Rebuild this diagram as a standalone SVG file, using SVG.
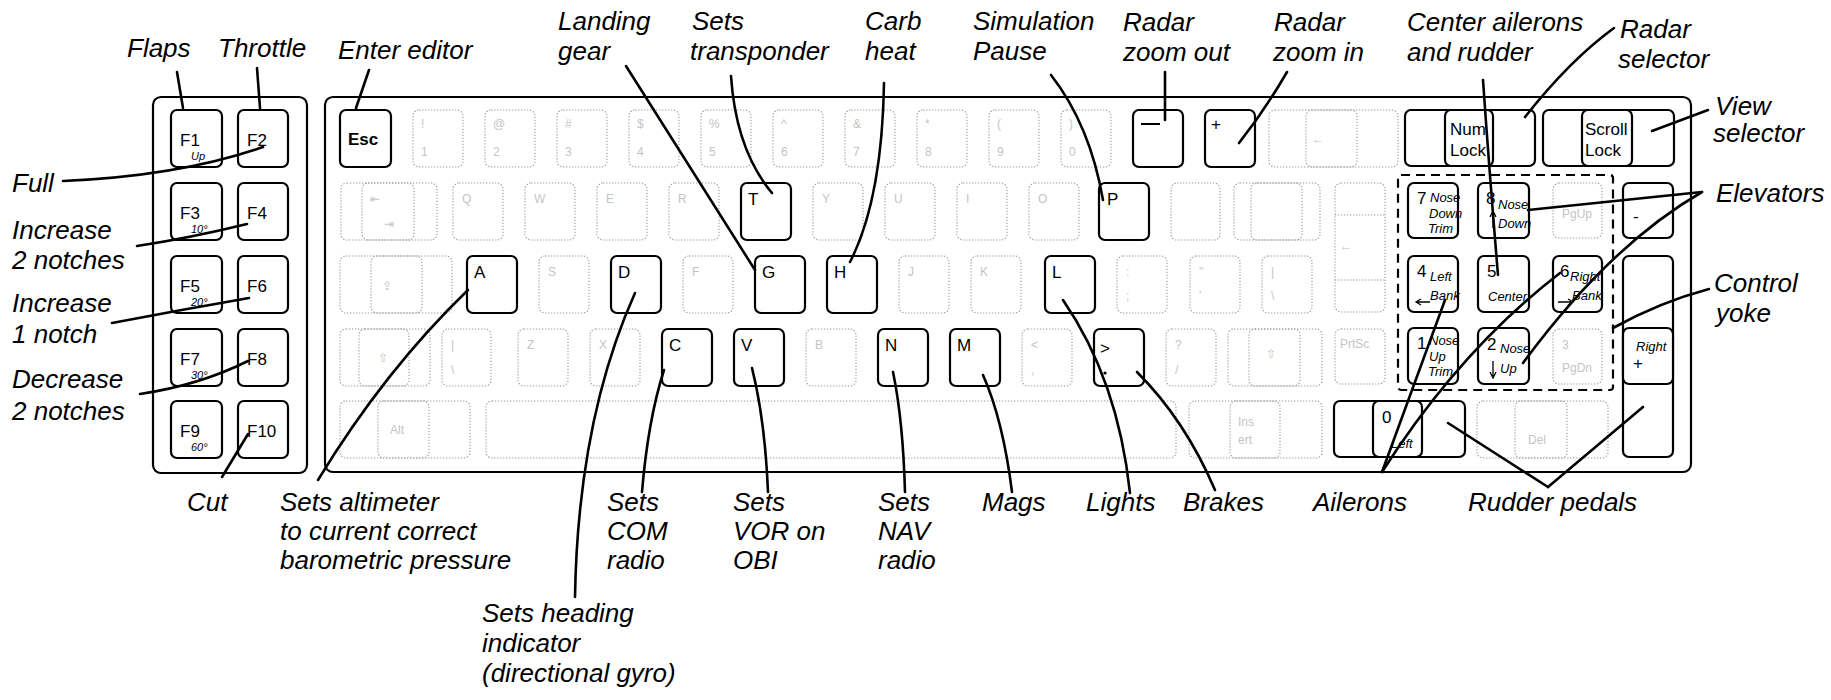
<svg xmlns="http://www.w3.org/2000/svg" width="1831" height="700" viewBox="0 0 1831 700">
<style>
.panel{fill:none;stroke:#000;stroke-width:2.2}
.k{fill:#fff;stroke:#000;stroke-width:2.2}
.d{fill:none;stroke:#9a9a9a;stroke-width:1.1;stroke-dasharray:1.3 1.7}
.dash{fill:none;stroke:#000;stroke-width:2.2;stroke-dasharray:9 6}
.ln{fill:none;stroke:#000;stroke-width:2.6;stroke-linecap:round}
.lb{font-family:"Liberation Sans",Arial,sans-serif;font-style:italic;font-size:26px;fill:#000}
.kt{font-family:"Liberation Sans",Arial,sans-serif;font-size:17px;fill:#000}
.kb{font-family:"Liberation Sans",Arial,sans-serif;font-size:17px;font-weight:bold;fill:#000}
.ks{font-family:"Liberation Sans",Arial,sans-serif;font-style:italic;font-size:11px;fill:#000}
.kn{font-family:"Liberation Sans",Arial,sans-serif;font-style:italic;font-size:13px;fill:#000}
.ft{font-family:"Liberation Sans",Arial,sans-serif;font-size:12px;fill:#c4c4c4}
</style>
<rect width="1831" height="700" fill="#fff"/>

<g id="panels">
<rect class="panel" x="153" y="97" width="154" height="376" rx="8"/>
<rect class="panel" x="325" y="97" width="1366" height="375" rx="8"/>
</g>

<g id="fkeys">
<rect class="k" x="171" y="110" width="51" height="57" rx="6"/><text class="kt" x="180" y="146">F1</text><text class="ks" x="191" y="160">Up</text>
<rect class="k" x="238" y="110" width="50" height="57" rx="6"/><text class="kt" x="247" y="146">F2</text>
<rect class="k" x="171" y="183" width="51" height="57" rx="6"/><text class="kt" x="180" y="219">F3</text><text class="ks" x="191" y="233">10°</text>
<rect class="k" x="238" y="183" width="50" height="57" rx="6"/><text class="kt" x="247" y="219">F4</text>
<rect class="k" x="171" y="256" width="51" height="57" rx="6"/><text class="kt" x="180" y="292">F5</text><text class="ks" x="191" y="306">20°</text>
<rect class="k" x="238" y="256" width="50" height="57" rx="6"/><text class="kt" x="247" y="292">F6</text>
<rect class="k" x="171" y="329" width="51" height="57" rx="6"/><text class="kt" x="180" y="365">F7</text><text class="ks" x="191" y="379">30°</text>
<rect class="k" x="238" y="329" width="50" height="57" rx="6"/><text class="kt" x="247" y="365">F8</text>
<rect class="k" x="171" y="401" width="51" height="57" rx="6"/><text class="kt" x="180" y="437">F9</text><text class="ks" x="191" y="451">60°</text>
<rect class="k" x="238" y="401" width="50" height="57" rx="6"/><text class="kt" x="247" y="437">F10</text>
</g>

<g id="faint-keys">
<rect class="d" x="413" y="110" width="50" height="57" rx="6"/><text class="ft" x="421" y="128">!</text><text class="ft" x="421" y="156">1</text>
<rect class="d" x="485" y="110" width="50" height="57" rx="6"/><text class="ft" x="493" y="128">@</text><text class="ft" x="493" y="156">2</text>
<rect class="d" x="557" y="110" width="50" height="57" rx="6"/><text class="ft" x="565" y="128">#</text><text class="ft" x="565" y="156">3</text>
<rect class="d" x="629" y="110" width="50" height="57" rx="6"/><text class="ft" x="637" y="128">$</text><text class="ft" x="637" y="156">4</text>
<rect class="d" x="701" y="110" width="50" height="57" rx="6"/><text class="ft" x="709" y="128">%</text><text class="ft" x="709" y="156">5</text>
<rect class="d" x="773" y="110" width="50" height="57" rx="6"/><text class="ft" x="781" y="128">^</text><text class="ft" x="781" y="156">6</text>
<rect class="d" x="845" y="110" width="50" height="57" rx="6"/><text class="ft" x="853" y="128">&amp;</text><text class="ft" x="853" y="156">7</text>
<rect class="d" x="917" y="110" width="50" height="57" rx="6"/><text class="ft" x="925" y="128">*</text><text class="ft" x="925" y="156">8</text>
<rect class="d" x="989" y="110" width="50" height="57" rx="6"/><text class="ft" x="997" y="128">(</text><text class="ft" x="997" y="156">9</text>
<rect class="d" x="1061" y="110" width="50" height="57" rx="6"/><text class="ft" x="1069" y="128">)</text><text class="ft" x="1069" y="156">0</text>
<rect class="d" x="1269" y="110" width="129" height="57" rx="6"/><rect class="d" x="1306" y="110" width="51" height="57" rx="6"/><text class="ft" x="1312" y="143">←</text>
<rect class="d" x="341" y="183" width="96" height="57" rx="6"/><rect class="d" x="362" y="183" width="52" height="57" rx="6"/><text class="ft" x="370" y="203">⇤</text><text class="ft" x="384" y="228">⇥</text>
<rect class="d" x="453" y="183" width="50" height="57" rx="6"/><text class="ft" x="462" y="203">Q</text>
<rect class="d" x="525" y="183" width="50" height="57" rx="6"/><text class="ft" x="534" y="203">W</text>
<rect class="d" x="597" y="183" width="50" height="57" rx="6"/><text class="ft" x="606" y="203">E</text>
<rect class="d" x="669" y="183" width="50" height="57" rx="6"/><text class="ft" x="678" y="203">R</text>
<rect class="d" x="813" y="183" width="50" height="57" rx="6"/><text class="ft" x="822" y="203">Y</text>
<rect class="d" x="885" y="183" width="50" height="57" rx="6"/><text class="ft" x="894" y="203">U</text>
<rect class="d" x="957" y="183" width="50" height="57" rx="6"/><text class="ft" x="966" y="203">I</text>
<rect class="d" x="1029" y="183" width="50" height="57" rx="6"/><text class="ft" x="1038" y="203">O</text>
<rect class="d" x="1171" y="183" width="49" height="57" rx="6"/>
<rect class="d" x="1234" y="183" width="86" height="57" rx="6"/><rect class="d" x="1251" y="183" width="51" height="57" rx="6"/>
<rect class="d" x="1335" y="183" width="50" height="129" rx="6"/><line class="d" x1="1335" y1="215" x2="1385" y2="215"/><line class="d" x1="1335" y1="280" x2="1385" y2="280"/><text class="ft" x="1340" y="250">←</text>
<rect class="d" x="1553" y="183" width="49" height="55" rx="6"/><text class="ft" x="1562" y="218">PgUp</text>
<rect class="d" x="340" y="256" width="112" height="57" rx="6"/><rect class="d" x="371" y="256" width="51" height="57" rx="6"/><text class="ft" x="382" y="290">⇪</text>
<rect class="d" x="539" y="256" width="50" height="57" rx="6"/><text class="ft" x="548" y="276">S</text>
<rect class="d" x="683" y="256" width="50" height="57" rx="6"/><text class="ft" x="692" y="276">F</text>
<rect class="d" x="899" y="256" width="50" height="57" rx="6"/><text class="ft" x="908" y="276">J</text>
<rect class="d" x="971" y="256" width="50" height="57" rx="6"/><text class="ft" x="980" y="276">K</text>
<rect class="d" x="1117" y="256" width="50" height="57" rx="6"/><text class="ft" x="1126" y="276">:</text><text class="ft" x="1126" y="300">;</text>
<rect class="d" x="1190" y="256" width="50" height="57" rx="6"/><text class="ft" x="1199" y="276">"</text><text class="ft" x="1199" y="300">'</text>
<rect class="d" x="1262" y="256" width="50" height="57" rx="6"/><text class="ft" x="1271" y="276">|</text><text class="ft" x="1271" y="300">\</text>
<rect class="d" x="340" y="329" width="90" height="57" rx="6"/><rect class="d" x="359" y="329" width="50" height="57" rx="6"/><text class="ft" x="378" y="362">⇧</text>
<rect class="d" x="442" y="329" width="49" height="57" rx="6"/><text class="ft" x="451" y="349">|</text><text class="ft" x="451" y="374">\</text>
<rect class="d" x="518" y="329" width="50" height="57" rx="6"/><text class="ft" x="527" y="349">Z</text>
<rect class="d" x="590" y="329" width="50" height="57" rx="6"/><text class="ft" x="599" y="349">X</text>
<rect class="d" x="806" y="329" width="50" height="57" rx="6"/><text class="ft" x="815" y="349">B</text>
<rect class="d" x="1022" y="329" width="50" height="57" rx="6"/><text class="ft" x="1031" y="349">&lt;</text><text class="ft" x="1031" y="374">,</text>
<rect class="d" x="1166" y="329" width="50" height="57" rx="6"/><text class="ft" x="1175" y="349">?</text><text class="ft" x="1175" y="374">/</text>
<rect class="d" x="1228" y="329" width="94" height="57" rx="6"/><rect class="d" x="1249" y="329" width="51" height="57" rx="6"/><text class="ft" x="1266" y="358">⇧</text>
<rect class="d" x="1335" y="329" width="50" height="55" rx="6"/><text class="ft" x="1340" y="348">PrtSc</text>
<rect class="d" x="1553" y="329" width="49" height="55" rx="6"/><text class="ft" x="1562" y="349">3</text><text class="ft" x="1562" y="372">PgDn</text>
<rect class="d" x="340" y="401" width="130" height="57" rx="6"/><rect class="d" x="378" y="401" width="51" height="57" rx="6"/><text class="ft" x="390" y="434">Alt</text>
<rect class="d" x="486" y="401" width="690" height="57" rx="6"/>
<rect class="d" x="1189" y="401" width="133" height="57" rx="6"/><rect class="d" x="1230" y="401" width="50" height="57" rx="6"/><text class="ft" x="1238" y="426">Ins</text><text class="ft" x="1238" y="444">ert</text>
<rect class="d" x="1477" y="401" width="131" height="57" rx="6"/><rect class="d" x="1515" y="401" width="52" height="57" rx="6"/><text class="ft" x="1528" y="444">Del</text>
</g>

<g id="key-esc"><rect class="k" x="340" y="110" width="51" height="57" rx="6"/><text class="kb" x="348" y="145">Esc</text></g>
<g id="key-minus"><rect class="k" x="1133" y="110" width="50" height="57" rx="6"/><line x1="1141" y1="124" x2="1160" y2="124" stroke="#000" stroke-width="2"/></g>
<g id="key-plus"><rect class="k" x="1205" y="110" width="50" height="57" rx="6"/><text class="kt" x="1211" y="130" font-size="20">+</text></g>
<g id="key-numlock"><rect class="k" x="1405" y="110" width="130" height="56" rx="6"/><rect class="k" x="1445" y="110" width="48" height="56" rx="6"/><text class="kt" x="1450" y="135">Num</text><text class="kt" x="1450" y="156">Lock</text></g>
<g id="key-scroll"><rect class="k" x="1543" y="110" width="131" height="56" rx="6"/><rect class="k" x="1582" y="110" width="50" height="56" rx="6"/><text class="kt" x="1585" y="135">Scroll</text><text class="kt" x="1585" y="156">Lock</text></g>

<g id="key-t"><rect class="k" x="741" y="183" width="50" height="57" rx="6"/><text class="kt" x="748" y="205" font-size="19">T</text></g>
<g id="key-p"><rect class="k" x="1099" y="183" width="50" height="57" rx="6"/><text class="kt" x="1107" y="205" font-size="19">P</text></g>
<g id="key-a"><rect class="k" x="467" y="256" width="50" height="57" rx="6"/><text class="kt" x="474" y="278" font-size="19">A</text></g>
<g id="key-d"><rect class="k" x="611" y="256" width="50" height="57" rx="6"/><text class="kt" x="618" y="278" font-size="19">D</text></g>
<g id="key-g"><rect class="k" x="755" y="256" width="50" height="57" rx="6"/><text class="kt" x="762" y="278" font-size="19">G</text></g>
<g id="key-h"><rect class="k" x="827" y="256" width="50" height="57" rx="6"/><text class="kt" x="834" y="278" font-size="19">H</text></g>
<g id="key-l"><rect class="k" x="1045" y="256" width="50" height="57" rx="6"/><text class="kt" x="1052" y="278" font-size="19">L</text></g>
<g id="key-c"><rect class="k" x="662" y="329" width="50" height="57" rx="6"/><text class="kt" x="669" y="351" font-size="19">C</text></g>
<g id="key-v"><rect class="k" x="734" y="329" width="50" height="57" rx="6"/><text class="kt" x="741" y="351" font-size="19">V</text></g>
<g id="key-n"><rect class="k" x="878" y="329" width="50" height="57" rx="6"/><text class="kt" x="885" y="351" font-size="19">N</text></g>
<g id="key-m"><rect class="k" x="950" y="329" width="50" height="57" rx="6"/><text class="kt" x="957" y="351" font-size="19">M</text></g>
<g id="key-period"><rect class="k" x="1094" y="329" width="50" height="57" rx="6"/><text class="kt" x="1100" y="354" font-size="24">&gt;</text><circle cx="1105" cy="373" r="1.6" fill="#000"/></g>

<g id="keypad-box"><rect class="dash" x="1398" y="175" width="215" height="215" rx="3"/></g>
<g id="key-7"><rect class="k" x="1408" y="183" width="50" height="55" rx="6"/><text class="kt" x="1417" y="204">7</text><text class="kn" x="1430" y="202">Nose</text><text class="kn" x="1429" y="218">Down</text><text class="kn" x="1428" y="233">Trim</text></g>
<g id="key-8"><rect class="k" x="1478" y="183" width="51" height="55" rx="6"/><text class="kt" x="1486" y="204">8</text><text class="kn" x="1498" y="209">Nose</text><text class="kn" x="1498" y="228">Down</text><path d="M1493 228 V213 M1490 217 L1493 211 L1496 217" stroke="#000" stroke-width="1.3" fill="none"/></g>
<g id="key-kpminus"><rect class="k" x="1623" y="183" width="50" height="55" rx="6"/><text class="kt" x="1633" y="222">-</text></g>
<g id="key-4"><rect class="k" x="1408" y="256" width="50" height="56" rx="6"/><text class="kt" x="1417" y="277">4</text><text class="kn" x="1430" y="281">Left</text><text class="kn" x="1430" y="300">Bank</text><path d="M1430 302 H1417 M1421 299 L1416 302 L1421 305" stroke="#000" stroke-width="1.3" fill="none"/></g>
<g id="key-5"><rect class="k" x="1478" y="256" width="51" height="56" rx="6"/><text class="kt" x="1487" y="277">5</text><text class="kn" x="1488" y="301">Center</text></g>
<g id="key-6"><rect class="k" x="1553" y="256" width="49" height="56" rx="6"/><text class="kt" x="1560" y="277">6</text><text class="kn" x="1570" y="281">Right</text><text class="kn" x="1572" y="300">Bank</text><path d="M1558 302 H1572 M1568 299 L1573 302 L1568 305" stroke="#000" stroke-width="1.3" fill="none"/></g>
<g id="key-kpplus"><rect class="k" x="1623" y="256" width="50" height="201" rx="6"/><rect class="k" x="1623" y="328" width="50" height="56" rx="6"/><text class="kn" x="1636" y="351">Right</text><text class="kt" x="1633" y="369" font-size="14">+</text></g>
<g id="key-1"><rect class="k" x="1408" y="328" width="50" height="56" rx="6"/><text class="kt" x="1417" y="349">1</text><text class="kn" x="1429" y="345">Nose</text><text class="kn" x="1429" y="361">Up</text><text class="kn" x="1428" y="376">Trim</text></g>
<g id="key-2"><rect class="k" x="1478" y="328" width="51" height="56" rx="6"/><text class="kt" x="1487" y="350">2</text><text class="kn" x="1500" y="353">Nose</text><text class="kn" x="1500" y="373">Up</text><path d="M1493 361 V376 M1490 372 L1493 378 L1496 372" stroke="#000" stroke-width="1.3" fill="none"/></g>
<g id="key-0"><rect class="k" x="1334" y="401" width="131" height="56" rx="6"/><rect class="k" x="1373" y="401" width="49" height="56" rx="6"/><text class="kt" x="1382" y="423">0</text><text class="kn" x="1391" y="448">Left</text></g>

<g id="connectors">
<path class="ln" d="M177 72 L183 108"/>
<path class="ln" d="M257 68 L260 108"/>
<path class="ln" d="M369 70 L356 108"/>
<path class="ln" d="M63 181 Q180 176 263 147"/>
<path class="ln" d="M137 246 Q190 238 247 224"/>
<path class="ln" d="M112 323 Q180 310 249 298"/>
<path class="ln" d="M140 394 Q200 385 248 361"/>
<path class="ln" d="M222 477 L248 434"/>
<path class="ln" d="M318 480 Q385 370 468 290"/>
<path class="ln" d="M626 66 L755 270"/>
<path class="ln" d="M731 76 Q736 150 772 193"/>
<path class="ln" d="M884 83 Q882 200 850 262"/>
<path class="ln" d="M1051 75 Q1090 125 1103 200"/>
<path class="ln" d="M1165 72 L1165 120"/>
<path class="ln" d="M1287 72 Q1265 110 1239 143"/>
<path class="ln" d="M1483 80 Q1490 180 1498 275"/>
<path class="ln" d="M1614 28 Q1570 60 1525 117"/>
<path class="ln" d="M1708 110 L1652 131"/>
<path class="ln" d="M1702 192 L1528 210"/>
<path class="ln" d="M1702 192 Q1610 245 1523 363"/>
<path class="ln" d="M1709 289 Q1660 302 1613 328"/>
<path class="ln" d="M1382 472 L1445 300"/>
<path class="ln" d="M1382 472 Q1460 350 1560 273"/>
<path class="ln" d="M1548 487 L1448 423"/>
<path class="ln" d="M1548 487 L1643 407"/>
<path class="ln" d="M1137 372 Q1185 420 1215 490"/>
<path class="ln" d="M1063 300 Q1118 380 1130 493"/>
<path class="ln" d="M983 375 Q1003 420 1012 492"/>
<path class="ln" d="M893 372 Q903 420 905 492"/>
<path class="ln" d="M752 368 Q765 420 768 492"/>
<path class="ln" d="M664 370 Q648 420 642 492"/>
<path class="ln" d="M635 293 Q578 420 575 597"/>
</g>

<g id="labels">
<text class="lb" x="127" y="57">Flaps</text>
<text class="lb" x="218" y="57">Throttle</text>
<text class="lb" x="338" y="59">Enter editor</text>
<text class="lb" x="558" y="30">Landing</text><text class="lb" x="558" y="60">gear</text>
<text class="lb" x="692" y="30">Sets</text><text class="lb" x="690" y="60">transponder</text>
<text class="lb" x="865" y="30">Carb</text><text class="lb" x="865" y="60">heat</text>
<text class="lb" x="973" y="30">Simulation</text><text class="lb" x="973" y="60">Pause</text>
<text class="lb" x="1123" y="31">Radar</text><text class="lb" x="1123" y="61">zoom out</text>
<text class="lb" x="1274" y="31">Radar</text><text class="lb" x="1273" y="61">zoom in</text>
<text class="lb" x="1407" y="31">Center ailerons</text><text class="lb" x="1407" y="61">and rudder</text>
<text class="lb" x="1620" y="38">Radar</text><text class="lb" x="1618" y="68">selector</text>
<text class="lb" x="1715" y="115">View</text><text class="lb" x="1713" y="142">selector</text>
<text class="lb" x="1716" y="202">Elevators</text>
<text class="lb" x="1714" y="292">Control</text><text class="lb" x="1716" y="322">yoke</text>
<text class="lb" x="12" y="192">Full</text>
<text class="lb" x="12" y="239">Increase</text><text class="lb" x="12" y="269">2 notches</text>
<text class="lb" x="12" y="312">Increase</text><text class="lb" x="12" y="343">1 notch</text>
<text class="lb" x="12" y="388">Decrease</text><text class="lb" x="12" y="420">2 notches</text>
<text class="lb" x="187" y="511">Cut</text>
<text class="lb" x="280" y="511">Sets altimeter</text><text class="lb" x="280" y="540">to current correct</text><text class="lb" x="280" y="569">barometric pressure</text>
<text class="lb" x="482" y="622">Sets heading</text><text class="lb" x="482" y="652">indicator</text><text class="lb" x="482" y="682">(directional gyro)</text>
<text class="lb" x="607" y="511">Sets</text><text class="lb" x="607" y="540">COM</text><text class="lb" x="607" y="569">radio</text>
<text class="lb" x="733" y="511">Sets</text><text class="lb" x="733" y="540">VOR on</text><text class="lb" x="733" y="569">OBI</text>
<text class="lb" x="878" y="511">Sets</text><text class="lb" x="878" y="540">NAV</text><text class="lb" x="878" y="569">radio</text>
<text class="lb" x="982" y="511">Mags</text>
<text class="lb" x="1086" y="511">Lights</text>
<text class="lb" x="1183" y="511">Brakes</text>
<text class="lb" x="1313" y="511">Ailerons</text>
<text class="lb" x="1468" y="511">Rudder pedals</text>
</g>
</svg>
